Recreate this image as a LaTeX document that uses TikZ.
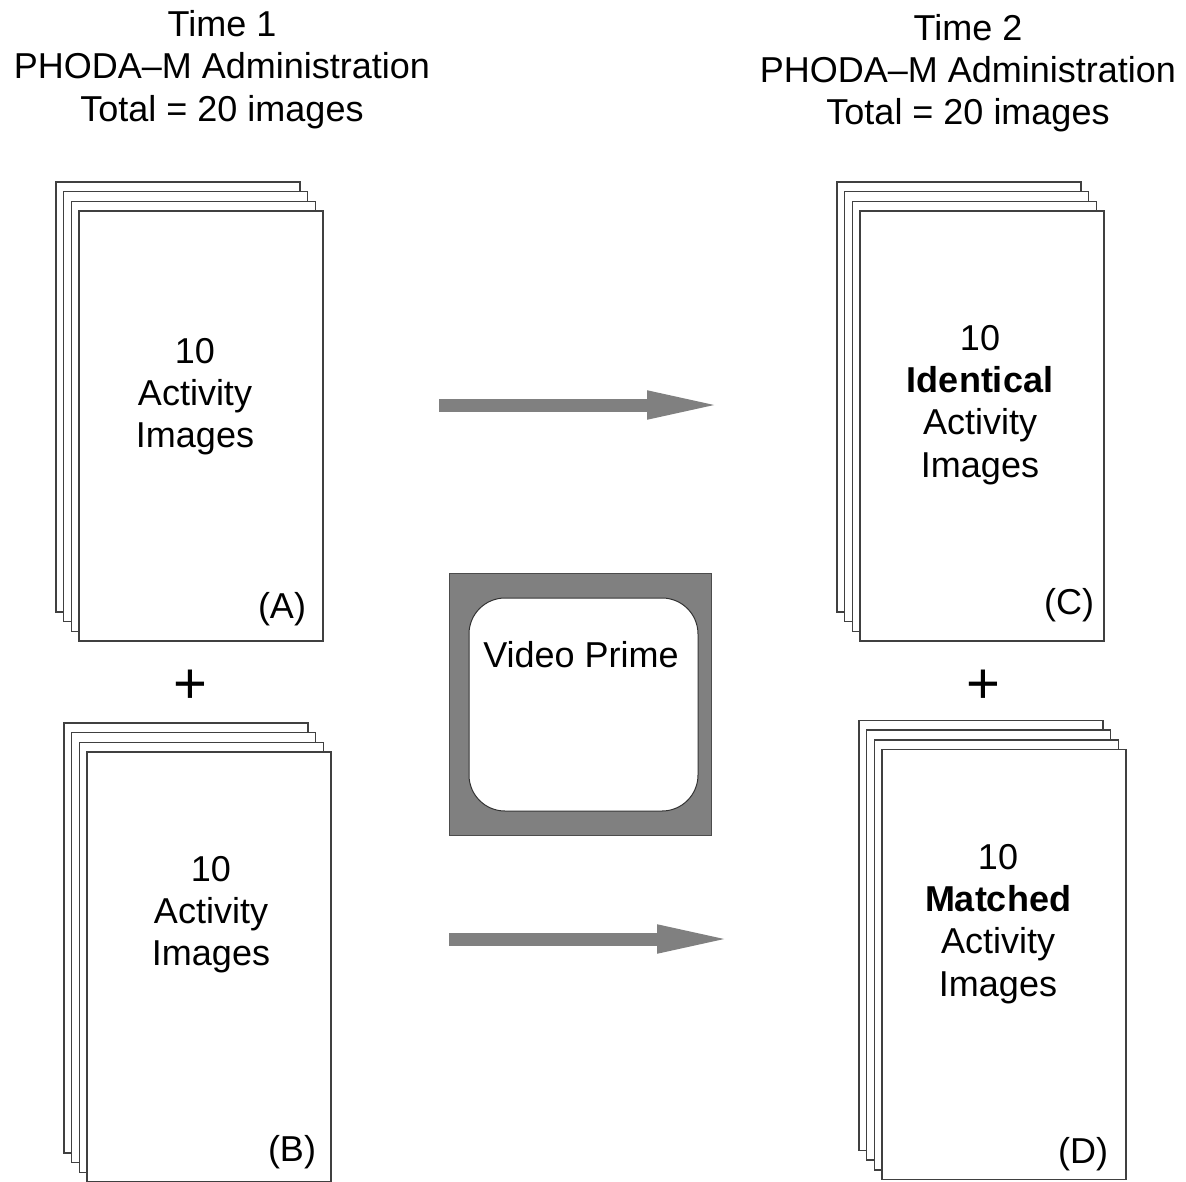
\documentclass[tikz,border=0pt]{standalone}
\usepackage{fontspec}
\setmainfont{Liberation Sans}
\usetikzlibrary{arrows.meta}
\definecolor{arrowgray}{HTML}{808080}
\tikzset{
  sheet/.style={draw=black!75, line width=1.5pt, fill=white, minimum width=244pt, minimum height=430pt, inner sep=0pt},
  lbl/.style={inner sep=0pt, align=center, font=\fontsize{36}{42.3}\selectfont},
  plus/.style={inner sep=0pt, font=\fontsize{58}{60}\selectfont},
  bigarrow/.style={arrowgray, line width=13pt, -{Triangle[length=78pt,width=25pt]}}
}
\begin{document}
\begin{tikzpicture}[x=1pt,y=-1pt]
  \useasboundingbox (0,0) rectangle (1186,1181);
  \node[lbl] (head1) at (222,69.5) {Time 1\\PHODA--M Administration\\Total = 20 images};
  \node[lbl] (head2) at (968,73) {Time 2\\PHODA--M Administration\\Total = 20 images};
  \foreach \i in {0,...,3} {
    \node[sheet] (a\i) at (178+7.7*\i,397+9.7*\i) {};
    \node[sheet] (b\i) at (186+7.7*\i,938+9.7*\i) {};
    \node[sheet] (c\i) at (959+7.7*\i,397+9.7*\i) {};
    \node[sheet] (d\i) at (981+7.7*\i,935.5+9.7*\i) {};
  }
  \node[lbl] (atext) at (195,396.5) {10\\Activity\\Images};
  \node[lbl] (btext) at (211,914.5) {10\\Activity\\Images};
  \node[lbl] (ctext) at (980,405) {10\\\textbf{Identical}\\Activity\\Images};
  \node[lbl] (dtext) at (998,924) {10\\\textbf{Matched}\\Activity\\Images};
  \node[lbl] (alab) at (282,609) {(A)};
  \node[lbl] (blab) at (292,1152) {(B)};
  \node[lbl] (clab) at (1069,605) {(C)};
  \node[lbl] (dlab) at (1083,1154) {(D)};
  \node[plus] (plus1) at (190,687) {+};
  \node[plus] (plus2) at (983,687) {+};
  \node[draw=black!70, line width=1pt, fill=arrowgray, minimum width=262pt, minimum height=262pt, inner sep=0pt] (tv) at (580,704) {};
  \node[draw=black!80, line width=1pt, fill=white, rounded corners=36pt, minimum width=229pt, minimum height=213pt, inner sep=0pt] (screen) at (583.5,704.5) {};
  \node[lbl] (prime) at (581,655) {Video Prime};
  \coordinate (ar1s) at (439,405);
  \coordinate (ar1e) at (725,405);
  \coordinate (ar2s) at (449,939);
  \coordinate (ar2e) at (735,939);
  \draw[bigarrow] (ar1s) -- (ar1e);
  \draw[bigarrow] (ar2s) -- (ar2e);
\end{tikzpicture}
\end{document}
